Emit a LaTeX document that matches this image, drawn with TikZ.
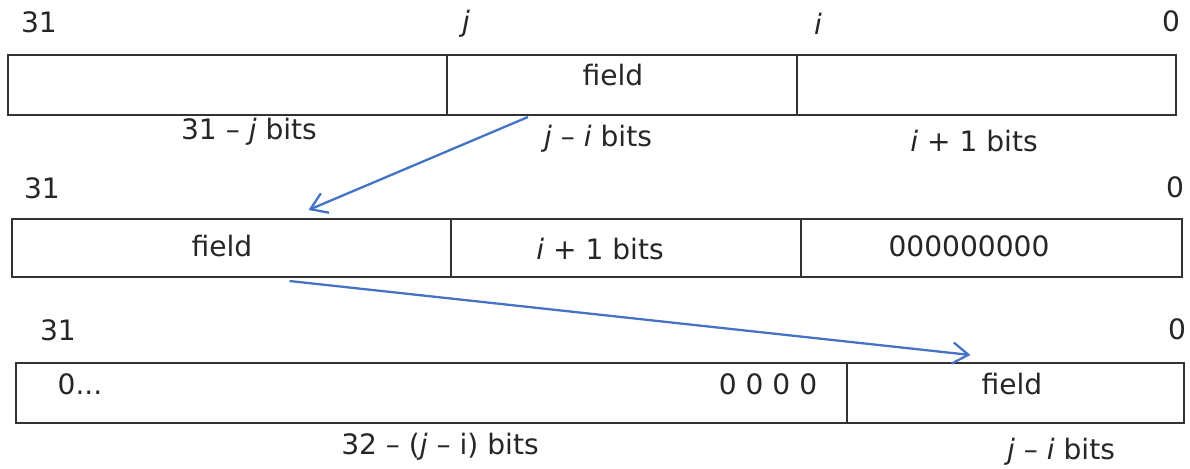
\documentclass[tikz,border=0pt]{standalone}
\usepackage{fontspec}
\setmainfont{DejaVu Sans}
\usetikzlibrary{arrows.meta}
\newlength\pu
\setlength\pu{0.02cm}
\definecolor{arrowblue}{RGB}{68,114,196}
\definecolor{boxgray}{RGB}{50,50,50}
\begin{document}
\begin{tikzpicture}[x=\pu, y=-\pu,
    cell/.style={draw=boxgray, line width=1pt, inner sep=0pt, outer sep=0pt, anchor=north west},
    lbl/.style={inner sep=0pt, text=black!85, font=\fontsize{16}{19}\selectfont},
    move/.style={draw=arrowblue, line width=1.3pt, -{Straight Barb[length=9pt,width=12pt]}}]
  \useasboundingbox (0,0) rectangle (1190,469);

  % Row 1: the word with the field in bits j..i
  \node[cell, minimum width=439\pu, minimum height=60\pu] (r1hi) at (8,55) {};
  \node[cell, minimum width=350\pu, minimum height=60\pu] (r1fld) at (r1hi.north east) {};
  \node[cell, minimum width=379\pu, minimum height=60\pu] (r1lo) at (r1fld.north east) {};
  \node[lbl] (n1a) at (39,22) {31};
  \node[lbl] (n1j) at (466,24) {\textit{j}};
  \node[lbl] (n1i) at (818,24) {\textit{i}};
  \node[lbl] (n1b) at (1171,21) {0};
  \node[lbl] (f1) at (613,75) {field};
  \node[lbl] (w1hi) at (249,132) {31 -- \textit{j} bits};
  \node[lbl] (w1fld) at (598,139) {\textit{j} -- \textit{i} bits};
  \node[lbl] (w1lo) at (974,141) {\textit{i} + 1 bits};

  % Row 2: after the left shift
  \node[cell, minimum width=439\pu, minimum height=58\pu] (r2fld) at (12,219) {};
  \node[cell, minimum width=350\pu, minimum height=58\pu] (r2mid) at (r2fld.north east) {};
  \node[cell, minimum width=381\pu, minimum height=58\pu] (r2lo) at (r2mid.north east) {};
  \node[lbl] (n2a) at (42,188) {31};
  \node[lbl] (n2b) at (1175,187) {0};
  \node[lbl] (f2) at (222,246) {field};
  \node[lbl] (m2) at (600,249) {\textit{i} + 1 bits};
  \node[lbl] (z2) at (969,246) {000000000};

  % Row 3: after the right shift
  \node[cell, minimum width=831\pu, minimum height=60\pu] (r3hi) at (16,363) {};
  \node[cell, minimum width=337\pu, minimum height=60\pu] (r3fld) at (r3hi.north east) {};
  \node[lbl] (n3a) at (58,330) {31};
  \node[lbl] (n3b) at (1177,329) {0};
  \node[lbl] (z3a) at (80,384) {0...};
  \node[lbl] (z3b) at (768,384) {0 0 0 0};
  \node[lbl] (f3) at (1012,384) {field};
  \node[lbl] (w3hi) at (440,447) {32 -- (\textit{j} -- i) bits};
  \node[lbl] (w3fld) at (1061,452) {\textit{j} -- \textit{i} bits};

  % Moves of the field
  \draw[move] ([shift={(-94,2)}]r1fld.south) -- ([shift={(77,-9)}]r2fld.north);
  \draw[move] ([shift={(58,4)}]r2fld.south) -- ([shift={(-45,-8)}]r3fld.north);
\end{tikzpicture}
\end{document}
